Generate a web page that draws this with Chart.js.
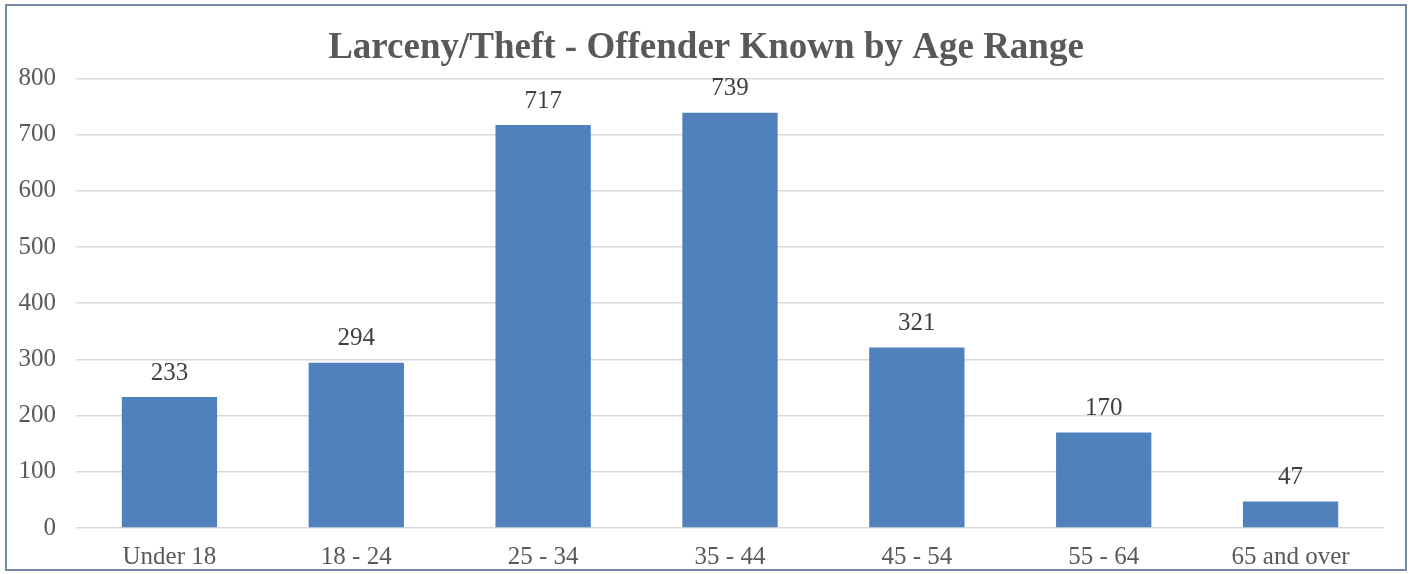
<!DOCTYPE html>
<html>
<head>
<meta charset="utf-8">
<script src="https://cdn.jsdelivr.net/npm/chart.js@4"></script>
<style>
  body { margin: 0; background: #fff; }
  #frame {
    position: absolute; left: 5px; top: 4px;
    width: 1398px; height: 563px;
    border: 2px solid #7489aa;
    background: #fff;
  }
  canvas { display: block; }
</style>
</head>
<body>
<div id="frame"><canvas id="barChart" width="1398" height="563"></canvas></div>
<script>
const ageRanges = ["Under 18", "18 - 24", "25 - 34", "35 - 44", "45 - 54", "55 - 64", "65 and over"];
const offenderCounts = [233, 294, 717, 739, 321, 170, 47];
const yTicks = [0, 100, 200, 300, 400, 500, 600, 700, 800];

const serif = "'Liberation Serif', 'Times New Roman', serif";

// values above each bar
const barValues = {
    id: "barValues",
    afterDatasetsDraw(chart) {
        const ctx = chart.ctx;
        const meta = chart.getDatasetMeta(0);
        ctx.save();
        ctx.font = "25px " + serif;
        ctx.fillStyle = "#404040";
        ctx.textAlign = "center";
        ctx.textBaseline = "middle";
        meta.data.forEach((bar, i) => {
            ctx.fillText(offenderCounts[i], bar.x, bar.y - 24);
        });
        ctx.restore();
    }
};

new Chart("barChart", {
    type: "bar",
    data: {
        labels: ageRanges,
        datasets: [{
            data: offenderCounts,
            backgroundColor: "#4f81bd",
            categoryPercentage: 1,
            barPercentage: 0.51
        }]
    },
    options: {
        responsive: false,
        animation: false,
        layout: { padding: 0 },
        plugins: {
            legend: { display: false },
            tooltip: { enabled: false },
            title: {
                display: true,
                text: "Larceny/Theft - Offender Known by Age Range",
                color: "#595959",
                font: { family: serif, size: 37, weight: "bold" },
                padding: { top: 20, bottom: 8 }
            }
        },
        scales: {
            x: {
                grid: { display: false, drawTicks: false },
                border: { display: false },
                ticks: {
                    color: "#595959",
                    font: { family: serif, size: 25 },
                    padding: 14,
                    maxRotation: 0
                },
                afterFit(axis) { axis.height = 41; }
            },
            y: {
                min: 0,
                max: 800,
                afterBuildTicks(axis) { axis.ticks = yTicks.map(v => ({ value: v })); },
                grid: { color: "#d9d9d9", lineWidth: 1.5, drawTicks: false },
                border: { display: false },
                ticks: {
                    color: "#595959",
                    font: { family: serif, size: 25 },
                    padding: 20
                },
                afterFit(axis) { axis.width = 69; }
            },
            // empty right axis, only keeps space on the right side
            yRight: {
                position: "right",
                grid: { display: false, drawTicks: false },
                border: { display: false },
                ticks: { display: false },
                afterFit(axis) { axis.width = 21; }
            }
        }
    },
    plugins: [barValues]
});
</script>
</body>
</html>
